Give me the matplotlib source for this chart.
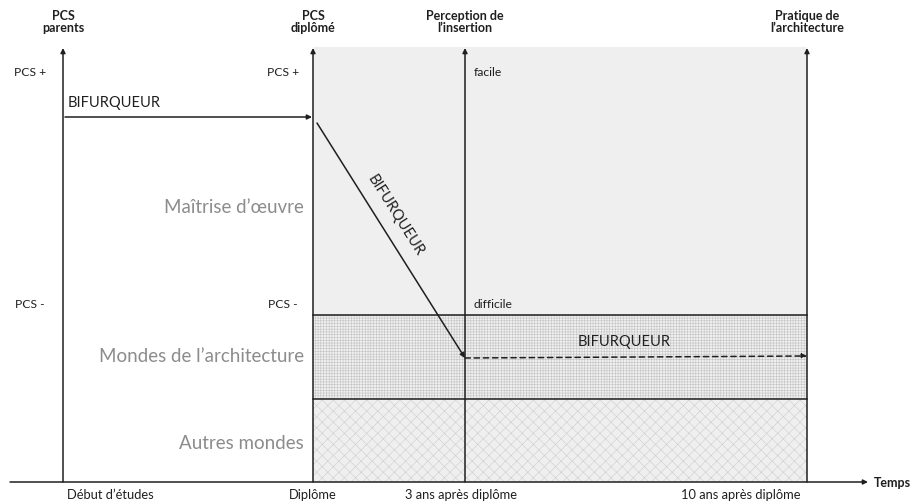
import matplotlib.pyplot as plt
import matplotlib.patches as mpatches

plt.rcParams['font.family'] = ['Lato', 'DejaVu Sans']
plt.rcParams['hatch.linewidth'] = 0.4

# jalons du temps (position horizontale) et titres des axes verticaux
jalons = ["Début d’études", "Diplôme", "3 ans après diplôme", "10 ans après diplôme"]
jalons_x = [63, 313, 465, 807]
jalons_label_x = [110, 313, 461, 741]
titres_axes = ["PCS\nparents", "PCS\ndiplômé", "Perception de\nl’insertion", "Pratique de\nl’architecture"]

# mondes professionnels (bandes horizontales)
mondes = ["Maîtrise d’œuvre", "Mondes de l’architecture", "Autres mondes"]
mondes_bornes = [48, 316, 400, 483]
mondes_label_y = [208, 357, 444]
mondes_hatch = [None, "++++++", "xxx"]

# repères sur les axes
pcs_y = {"PCS +": 73, "PCS -": 305}
insertion_y = {"facile": 73, "difficile": 305}

# trajectoire du bifurqueur
traj_x = [65, 313, 317, 465, 807]
traj_y = [118, 118, 124, 359, 357]

axe_t = 483
noir = "#1f1f1f"
gris = "#8c8c8c"

fig = plt.figure(figsize=(9.14, 5.02), dpi=100)
ax = fig.add_axes([0, 0, 1, 1])
ax.set_xlim(0, 914)
ax.set_ylim(502, 0)
ax.axis("off")

# bandes grisées
x0, x1 = jalons_x[1], jalons_x[3]
hatch_col = ["#c4c4c4", "#c4c4c4", "#cdcdcd"]
for i, h in enumerate(mondes_hatch):
    y0, y1 = mondes_bornes[i], mondes_bornes[i + 1]
    ax.add_patch(mpatches.Rectangle((x0, y0), x1 - x0, y1 - y0,
                                    facecolor="#efefef", edgecolor=hatch_col[i],
                                    hatch=h, lw=0, zorder=1))
for y in mondes_bornes[1:3]:
    ax.plot([x0, x1], [y, y], color=noir, lw=1.1, zorder=3)

# axe du temps
ax.annotate("", xy=(868, axe_t), xytext=(10, axe_t),
            arrowprops=dict(arrowstyle="-|>", color=noir, lw=1.1,
                            mutation_scale=7, shrinkA=0, shrinkB=0), zorder=4)
ax.text(874, axe_t, "Temps", fontsize=9, fontweight="bold", ha="left", va="center", color=noir)

# axes verticaux
for x, t in zip(jalons_x, titres_axes):
    ax.annotate("", xy=(x, 49), xytext=(x, axe_t),
                arrowprops=dict(arrowstyle="-|>", color=noir, lw=1.1,
                                mutation_scale=7, shrinkA=0, shrinkB=0), zorder=4)
    ax.text(x, 22, t, fontsize=9, fontweight="bold", ha="center", va="center",
            color=noir, linespacing=1.1)

for lab, lx in zip(jalons, jalons_label_x):
    ax.text(lx, 495, lab, fontsize=9.3, ha="center", va="center", color=noir)

# repères PCS
for lab, y in pcs_y.items():
    ax.text(30, y, lab, fontsize=8.7, ha="center", va="center", color=noir)
    ax.text(283, y, lab, fontsize=8.7, ha="center", va="center", color=noir)
for lab, y in insertion_y.items():
    ax.text(474, y, lab, fontsize=8.7, ha="left", va="center", color=noir)

# noms des mondes
for lab, y in zip(mondes, mondes_label_y):
    ax.text(304, y, lab, fontsize=13.5, ha="right", va="center", color=gris)

# trajectoire
arrow_kw = dict(arrowstyle="-|>", color=noir, lw=1.1, mutation_scale=7, shrinkA=0, shrinkB=0)
ax.annotate("", xy=(traj_x[1] - 1, traj_y[1]), xytext=(traj_x[0], traj_y[0]),
            arrowprops=arrow_kw, zorder=5)
ax.annotate("", xy=(traj_x[3], traj_y[3]), xytext=(traj_x[2], traj_y[2]),
            arrowprops=arrow_kw, zorder=5)
ax.annotate("", xy=(traj_x[4], traj_y[4]), xytext=(traj_x[3], traj_y[3]),
            arrowprops=dict(arrow_kw, linestyle=(0, (3.5, 2.5))), zorder=5)

ax.text(68, 103, "BIFURQUEUR", fontsize=10.5, ha="left", va="center", color=noir)
ax.text(395, 216, "BIFURQUEUR", fontsize=10.5, ha="center", va="center", color=noir,
        rotation=-57.7, rotation_mode="anchor")
ax.text(578, 342, "BIFURQUEUR", fontsize=10.5, ha="left", va="center", color=noir)

fig.savefig("out.png", dpi=100)
